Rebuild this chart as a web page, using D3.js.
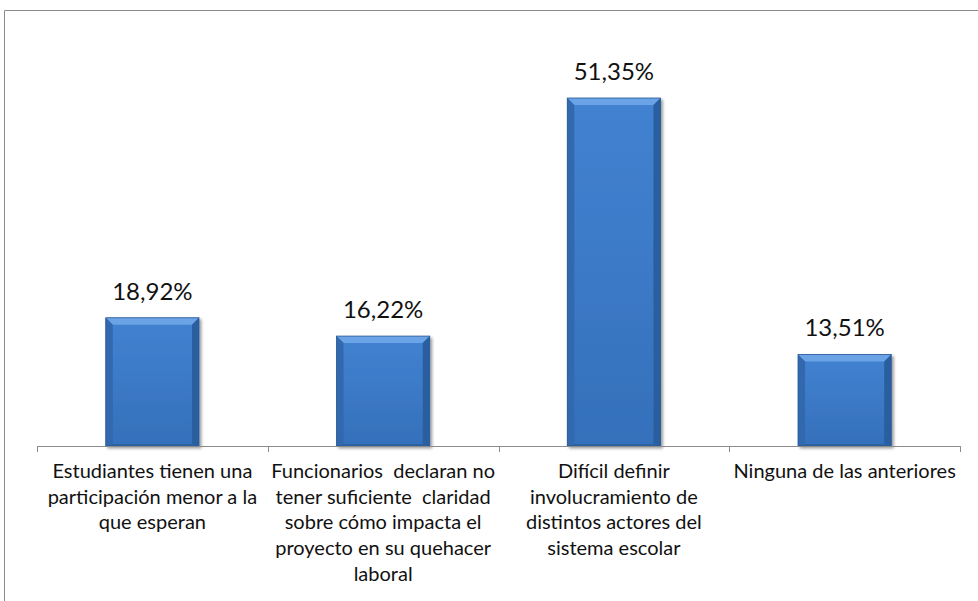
<!DOCTYPE html>
<html><head><meta charset="utf-8">
<script src="https://cdn.jsdelivr.net/npm/d3@7"></script>
<style>
html,body{margin:0;padding:0;background:#fff;}
svg{display:block;font-family:Lato,"Open Sans",sans-serif;}
</style></head>
<body>
<script>
const categories = [
  "Estudiantes tienen una\nparticipación menor a la\nque esperan",
  "Funcionarios  declaran no\ntener suficiente  claridad\nsobre cómo impacta el\nproyecto en su quehacer\nlaboral",
  "Difícil definir\ninvolucramiento de\ndistintos actores del\nsistema escolar",
  "Ninguna de las anteriores"
];
const values = [18.92, 16.22, 51.35, 13.51];
const valueLabels = ["18,92%", "16,22%", "51,35%", "13,51%"];

const W = 978, H = 601;
const svg = d3.select("body").append("svg").attr("width", W).attr("height", H);

// outer frame
svg.append("path").attr("d", `M4.5,${H} V10.5 H${W}`).attr("fill","none").attr("stroke","#8a8a8a").attr("stroke-width",1);

const x = d3.scaleBand().domain(d3.range(categories.length)).range([37, 960]).paddingInner(0).paddingOuter(0);
const y = d3.scaleLinear().domain([0, 60]).range([446, 39.4]);
const bw = x.bandwidth() * 0.404;

const defs = svg.append("defs");
const g1 = defs.append("linearGradient").attr("id","face").attr("x1",0).attr("x2",0).attr("y1",0).attr("y2",1);
g1.append("stop").attr("offset","0%").attr("stop-color","#4282d1");
g1.append("stop").attr("offset","100%").attr("stop-color","#3570bb");
const f = defs.append("filter").attr("id","sh").attr("x","-20%").attr("y","-20%").attr("width","150%").attr("height","150%");
f.append("feGaussianBlur").attr("in","SourceAlpha").attr("stdDeviation",1.6);
f.append("feOffset").attr("dx",1.5).attr("dy",1.5).attr("result","b");
f.append("feComponentTransfer").append("feFuncA").attr("type","linear").attr("slope",0.4);
const m = f.append("feMerge"); m.append("feMergeNode"); m.append("feMergeNode").attr("in","SourceGraphic");

const bars = svg.append("g").selectAll("g").data(values).join("g").attr("filter","url(#sh)");
bars.each(function(v,i){
  const g = d3.select(this);
  const x0 = x(i) + (x.bandwidth()-bw)/2, x1 = x0 + bw, y0 = y(v), y1 = y(0);
  const b = 7;
  g.append("rect").attr("x",x0).attr("y",y0).attr("width",bw).attr("height",y1-y0).attr("fill","url(#face)");
  g.append("polygon").attr("points",`${x0},${y0} ${x1},${y0} ${x1-b},${y0+b} ${x0+b},${y0+b}`).attr("fill","#6aa3e6");
  g.append("polygon").attr("points",`${x0},${y0} ${x0+b},${y0+b} ${x0+b},${y1-2} ${x0},${y1}`).attr("fill","#3068ae");
  g.append("polygon").attr("points",`${x1},${y0} ${x1-b},${y0+b} ${x1-b},${y1-2} ${x1},${y1}`).attr("fill","#2b5e9f");
  g.append("polygon").attr("points",`${x0},${y1} ${x0+b},${y1-2} ${x1-b},${y1-2} ${x1},${y1}`).attr("fill","#2e62a3");
  g.append("rect").attr("x",x0).attr("y",y0).attr("width",bw).attr("height",y1-y0).attr("fill","none").attr("stroke","#2a5a96").attr("stroke-width",0.8);
});

// value labels
svg.append("g").selectAll("text").data(values).join("text")
  .attr("x",(d,i)=>x(i)+x.bandwidth()/2).attr("y",d=>y(d)-18)
  .attr("text-anchor","middle").attr("font-size",24).attr("fill","#111")
  .text((d,i)=>valueLabels[i]);

// axis
const axis = d3.axisBottom(x).tickSize(0).tickFormat("");
const ag = svg.append("g").attr("transform","translate(0,446)").call(axis);
ag.select(".domain").attr("stroke","#8c8c8c").attr("d","M37.5,0.5H960.5");
ag.selectAll(".tick").remove();
const tickPos = x.domain().map(i=>x(i)).concat([x.range()[1]]);
ag.selectAll("line.t").data(tickPos).join("line").attr("class","t")
  .attr("x1",d=>Math.round(d)+0.5).attr("x2",d=>Math.round(d)+0.5).attr("y1",0).attr("y2",6).attr("stroke","#8c8c8c");

// category labels
const cl = svg.append("g").selectAll("text").data(categories).join("text")
  .attr("text-anchor","middle").attr("font-size",20).attr("fill","#111")
  .style("white-space","pre")
  .attr("transform",(d,i)=>`translate(${x(i)+x.bandwidth()/2},478)`);
cl.selectAll("tspan").data(d=>d.split("\n")).join("tspan")
  .attr("x",0).attr("y",(d,j)=>j*25.7).text(d=>d);
</script>
</body></html>
